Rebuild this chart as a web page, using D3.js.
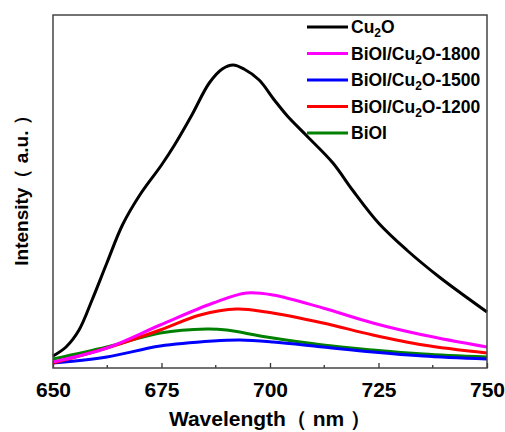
<!DOCTYPE html>
<html>
<head>
<meta charset="utf-8">
<script src="https://cdn.jsdelivr.net/npm/d3@7"></script>
<style>
  body { margin: 0; background: #fff; }
  text { font-family: Arial, "Liberation Sans", sans-serif; font-weight: bold; fill: #000; }
</style>
</head>
<body>
<div id="chart"></div>
<script>
// data (intensity in arbitrary units)
var wl_cu2o = [650, 653, 656, 659, 662.5, 666, 670, 675, 678, 682, 686, 689, 691.5, 694, 697.5, 701, 704, 708.5, 714.5, 719, 725, 731.5, 739, 750];
var int_cu2o = [12, 21, 38, 68, 106, 143, 173, 203, 223, 253, 285, 299, 303, 299, 288, 268, 252, 232, 205, 178, 145, 118, 91, 56];

var wl_1800 = [650, 662.4, 674.7, 686.9, 694.6, 700.7, 712.2, 723.7, 735.3, 750];
var int_1800 = [6, 20, 43, 65, 75, 73, 60, 45, 33, 21];

var wl_1200 = [650, 662.4, 674.7, 683.9, 692.3, 699.2, 712.2, 723.7, 735.3, 750];
var int_1200 = [5, 20, 38, 53, 59, 56, 45, 33, 23, 15];

var wl_1500 = [650, 662.4, 674.7, 686.9, 693.1, 700.7, 712.2, 723.7, 735.3, 750];
var int_1500 = [5, 11, 22, 27, 28, 26, 21, 16, 12, 9];

var wl_biol = [650, 662.4, 674.7, 685.4, 690, 699.2, 712.2, 723.7, 735.3, 750];
var int_biol = [9, 21, 35, 39, 38, 31, 23, 18, 14, 11];

var series_colors = ["#000000", "#ff00ff", "#0000ff", "#ff0000", "#008000"];
var x_ticks = [650, 675, 700, 725, 750];
var minor_ticks = [662.5, 687.5, 712.5, 737.5];

var series = [
  {x: wl_biol, y: int_biol, c: series_colors[4]},
  {x: wl_1500, y: int_1500, c: series_colors[2]},
  {x: wl_1200, y: int_1200, c: series_colors[3]},
  {x: wl_1800, y: int_1800, c: series_colors[1]},
  {x: wl_cu2o, y: int_cu2o, c: series_colors[0]}
];

var margin = {top: 15, right: 18, bottom: 64, left: 53},
    width = 505 - margin.left - margin.right,
    height = 432 - margin.top - margin.bottom;

var svg = d3.select("#chart")
  .append("svg")
  .attr("width", 505)
  .attr("height", 432)
  .append("g")
  .attr("transform", "translate(" + margin.left + "," + margin.top + ")");

var x = d3.scaleLinear().domain([650, 750]).range([0, width]);
var y = d3.scaleLinear().domain([0, 353]).range([height, 0]);

// curves
var line = d3.line().curve(d3.curveCatmullRom.alpha(0.5));
series.forEach(function(s) {
  var pts = s.x.map(function(v, i) { return [x(v), y(s.y[i])]; });
  svg.append("path")
    .attr("d", line(pts))
    .attr("fill", "none")
    .attr("stroke", s.c)
    .attr("stroke-width", 3)
    .attr("stroke-linejoin", "round");
});

// bottom axis, ticks pointing inward
var xAxis = d3.axisBottom(x).tickValues(x_ticks).tickSizeInner(-5).tickSizeOuter(0).tickPadding(14);
var gx = svg.append("g").attr("transform", "translate(0," + height + ")").call(xAxis);
gx.select(".domain").remove();
gx.selectAll("line").attr("stroke", "#333").attr("stroke-width", 1.3);
gx.selectAll("text").style("font-size", "21px").attr("fill", "#000");

// minor ticks
svg.selectAll(".minor").data(minor_ticks).enter()
  .append("line")
  .attr("x1", function(d) { return x(d); })
  .attr("x2", function(d) { return x(d); })
  .attr("y1", height)
  .attr("y2", height - 3)
  .attr("stroke", "#333")
  .attr("stroke-width", 1.3);

// frame
svg.append("rect")
  .attr("x", 0).attr("y", 0)
  .attr("width", width).attr("height", height)
  .attr("fill", "none")
  .attr("stroke", "#444")
  .attr("stroke-width", 1.5);

// axis titles
svg.append("text")
  .attr("x", width / 2)
  .attr("y", height + 58)
  .attr("text-anchor", "middle")
  .style("font-size", "21px")
  .text("Wavelength（ nm ）");

svg.append("text")
  .attr("transform", "rotate(-90)")
  .attr("x", -(186 - margin.top))
  .attr("y", -25)
  .attr("text-anchor", "middle")
  .style("font-size", "19px")
  .text("Intensity（ a.u. ）");

// legend
var legend_labels = [
  ["Cu", "2", "O"],
  ["BiOI/Cu", "2", "O-1800"],
  ["BiOI/Cu", "2", "O-1500"],
  ["BiOI/Cu", "2", "O-1200"],
  ["BiOI"]
];
var lg = svg.append("g").attr("transform", "translate(" + (307 - margin.left) + "," + (27 - margin.top) + ")");
legend_labels.forEach(function(parts, i) {
  var row = lg.append("g").attr("transform", "translate(0," + (i * 26.5) + ")");
  row.append("line")
    .attr("x1", 0).attr("x2", 41)
    .attr("y1", 0).attr("y2", 0)
    .attr("stroke", series_colors[i])
    .attr("stroke-width", 3);
  var t = row.append("text").attr("x", 44).attr("y", 6).style("font-size", "17.5px");
  parts.forEach(function(p, j) {
    var ts = t.append("tspan").text(p);
    if (j === 1) ts.attr("dy", 4).style("font-size", "12px");
    if (j === 2) ts.attr("dy", -4);
  });
});
</script>
</body>
</html>
